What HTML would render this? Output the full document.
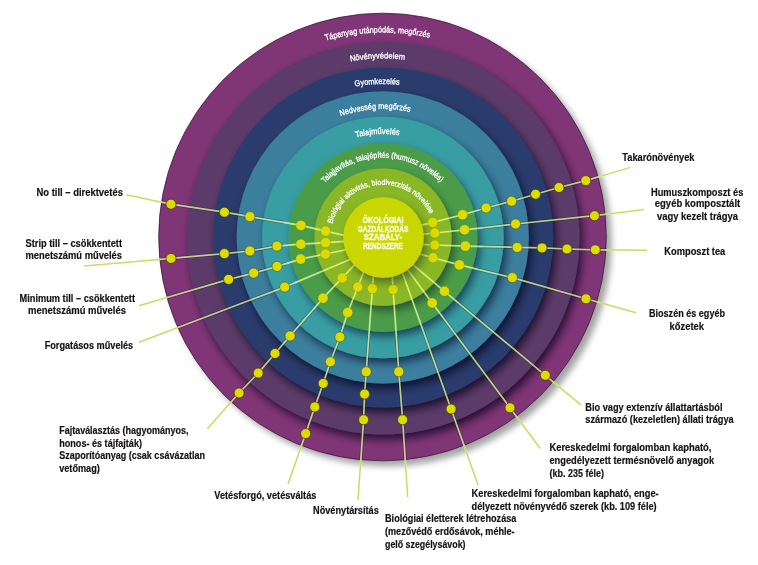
<!DOCTYPE html><html><head><meta charset="utf-8"><style>html,body{margin:0;padding:0;background:#fff;}svg{display:block;}text{font-family:"Liberation Sans",sans-serif;}</style></head><body>
<svg width="758" height="565" viewBox="0 0 758 565">
<defs>
<filter id="sh1" x="-20%" y="-20%" width="140%" height="140%"><feGaussianBlur in="SourceAlpha" stdDeviation="4.5"/><feOffset dx="3" dy="4.5" result="b"/><feFlood flood-color="#0a0018" flood-opacity="0.70"/><feComposite in2="b" operator="in"/><feMerge><feMergeNode/><feMergeNode in="SourceGraphic"/></feMerge></filter>
<filter id="sh2" x="-20%" y="-20%" width="140%" height="140%"><feGaussianBlur in="SourceAlpha" stdDeviation="4.5"/><feOffset dx="3" dy="4.5" result="b"/><feFlood flood-color="#0a0018" flood-opacity="0.70"/><feComposite in2="b" operator="in"/><feMerge><feMergeNode/><feMergeNode in="SourceGraphic"/></feMerge></filter>
<filter id="sh3" x="-20%" y="-20%" width="140%" height="140%"><feGaussianBlur in="SourceAlpha" stdDeviation="4.5"/><feOffset dx="3" dy="4.5" result="b"/><feFlood flood-color="#0a0018" flood-opacity="0.68"/><feComposite in2="b" operator="in"/><feMerge><feMergeNode/><feMergeNode in="SourceGraphic"/></feMerge></filter>
<filter id="sh4" x="-20%" y="-20%" width="140%" height="140%"><feGaussianBlur in="SourceAlpha" stdDeviation="4.5"/><feOffset dx="3" dy="4.5" result="b"/><feFlood flood-color="#0a0018" flood-opacity="0.60"/><feComposite in2="b" operator="in"/><feMerge><feMergeNode/><feMergeNode in="SourceGraphic"/></feMerge></filter>
<filter id="sh5" x="-20%" y="-20%" width="140%" height="140%"><feGaussianBlur in="SourceAlpha" stdDeviation="4.5"/><feOffset dx="3" dy="4.5" result="b"/><feFlood flood-color="#0a0018" flood-opacity="0.55"/><feComposite in2="b" operator="in"/><feMerge><feMergeNode/><feMergeNode in="SourceGraphic"/></feMerge></filter>
<filter id="sh6" x="-20%" y="-20%" width="140%" height="140%"><feGaussianBlur in="SourceAlpha" stdDeviation="4.5"/><feOffset dx="3" dy="4.5" result="b"/><feFlood flood-color="#0a0018" flood-opacity="0.45"/><feComposite in2="b" operator="in"/><feMerge><feMergeNode/><feMergeNode in="SourceGraphic"/></feMerge></filter>
<filter id="sh7" x="-20%" y="-20%" width="140%" height="140%"><feGaussianBlur in="SourceAlpha" stdDeviation="4.5"/><feOffset dx="3" dy="4.5" result="b"/><feFlood flood-color="#0a0018" flood-opacity="0.40"/><feComposite in2="b" operator="in"/><feMerge><feMergeNode/><feMergeNode in="SourceGraphic"/></feMerge></filter>
<filter id="sho" x="-20%" y="-20%" width="140%" height="140%"><feGaussianBlur in="SourceAlpha" stdDeviation="3"/><feOffset dx="4.5" dy="4.5" result="b"/><feFlood flood-color="#000" flood-opacity="0.36"/><feComposite in2="b" operator="in"/><feMerge><feMergeNode/><feMergeNode in="SourceGraphic"/></feMerge></filter>
<clipPath id="cc"><circle cx="382.8" cy="237.0" r="223.8"/></clipPath>
<clipPath id="ca"><path clip-rule="evenodd" d="M382.8 237.0 m-223.8 0 a223.8 223.8 0 1 0 447.6 0 a223.8 223.8 0 1 0 -447.6 0Z M382.8 237.0 m-100 0 a100 100 0 1 0 200 0 a100 100 0 1 0 -200 0Z"/></clipPath>
<clipPath id="co"><path clip-rule="evenodd" d="M0 0H758V565H0Z M382.8 237.0 m-223 0 a223 223 0 1 0 446 0 a223 223 0 1 0 -446 0Z"/></clipPath>
<path id="rp0" d="M347.29 438.39 A204.50 204.50 0 1 1 418.31 438.39"/>
<path id="rp1" d="M351.80 412.79 A178.50 178.50 0 1 1 413.80 412.79"/>
<path id="rp2" d="M356.23 387.68 A153.00 153.00 0 1 1 409.37 387.68"/>
<path id="rp3" d="M360.57 363.06 A128.00 128.00 0 1 1 405.03 363.06"/>
<path id="rp4" d="M364.91 338.44 A103.00 103.00 0 1 1 400.69 338.44"/>
<path id="rp5" d="M369.03 315.10 A79.30 79.30 0 1 1 396.57 315.10"/>
<path id="rp6" d="M373.72 288.51 A52.30 52.30 0 1 1 391.88 288.51"/>
</defs>
<circle cx="382.5" cy="237.0" r="223.8" fill="#803677" filter="url(#sho)" stroke="#3a1a3a" stroke-width="0.8"/>
<circle cx="383.2" cy="238.3" r="196.2" fill="#5b3a6a" filter="url(#sh1)"/>
<circle cx="383.2" cy="237.4" r="170.0" fill="#2b3a6d" filter="url(#sh2)"/>
<circle cx="382.7" cy="237.3" r="146.1" fill="#3a7e9e" filter="url(#sh3)"/>
<circle cx="382.9" cy="237.5" r="120.8" fill="#389ea4" filter="url(#sh4)"/>
<circle cx="383.0" cy="237.5" r="94.4" fill="#4c9c4a" filter="url(#sh5)"/>
<circle cx="383.0" cy="237.1" r="68.6" fill="#89b726" filter="url(#sh6)"/>
<text font-size="8.5" fill="#ffffff" stroke="#ffffff" stroke-width="0.3" text-anchor="middle"><textPath href="#rp0" startOffset="601.05" textLength="105.0" lengthAdjust="spacingAndGlyphs">Tápanyag utánpódás, megőrzés</textPath></text>
<text font-size="8.5" fill="#ffffff" stroke="#ffffff" stroke-width="0.3" text-anchor="middle"><textPath href="#rp1" startOffset="524.01" textLength="54.5" lengthAdjust="spacingAndGlyphs">Növényvédelem</textPath></text>
<text font-size="8.5" fill="#ffffff" stroke="#ffffff" stroke-width="0.3" text-anchor="middle"><textPath href="#rp2" startOffset="448.09" textLength="44.5" lengthAdjust="spacingAndGlyphs">Gyomkezelés</textPath></text>
<text font-size="8.5" fill="#ffffff" stroke="#ffffff" stroke-width="0.3" text-anchor="middle"><textPath href="#rp3" startOffset="371.74" textLength="70.5" lengthAdjust="spacingAndGlyphs">Nedvesség megőrzés</textPath></text>
<text font-size="8.5" fill="#ffffff" stroke="#ffffff" stroke-width="0.3" text-anchor="middle"><textPath href="#rp4" startOffset="300.21" textLength="43.5" lengthAdjust="spacingAndGlyphs">Talajművelés</textPath></text>
<text font-size="8.0" fill="#ffffff" stroke="#ffffff" stroke-width="0.3" text-anchor="middle"><textPath href="#rp5" startOffset="234.60" textLength="130.0" lengthAdjust="spacingAndGlyphs">Talajjavítás, talajépítés (humusz növelés)</textPath></text>
<text font-size="7.6" fill="#ffffff" stroke="#ffffff" stroke-width="0.3" text-anchor="middle"><textPath href="#rp6" startOffset="149.70" textLength="127.0" lengthAdjust="spacingAndGlyphs">Biológiai aktivitás, biodiverzitás növelése</textPath></text>
<g clip-path="url(#ca)" fill="none" stroke="#1a0a20" stroke-opacity="0.32" stroke-width="3.2" stroke-linejoin="round">
<path d="M126.4 194.8 L171.0 204.2 L224.4 212.2 L249.9 216.6 L300.9 225.4 L325.6 231.1 L352.8 237.4"/>
<path d="M84.0 266.0 L171.0 258.4 L224.4 253.6 L249.9 251.0 L277.0 246.1 L300.9 244.2 L325.6 242.6 L353.0 240.8"/>
<path d="M139.0 305.8 L228.6 279.4 L253.7 273.1 L277.1 266.4 L300.7 259.1 L325.4 254.0 L354.9 247.9"/>
<path d="M139.0 342.2 L284.7 287.1 L347.0 260.7 L359.2 255.5"/>
<path d="M207.4 428.7 L239.1 393.0 L258.2 373.1 L275.0 353.5 L290.1 335.9 L323.0 298.2 L342.2 277.9 L361.2 257.8"/>
<path d="M288.0 483.9 L305.7 433.6 L314.8 406.9 L323.2 383.4 L330.4 361.8 L339.9 337.0 L347.7 312.5 L357.8 287.0 L367.4 262.7"/>
<path d="M358.0 500.0 L363.6 419.8 L364.6 394.1 L366.2 371.8 L372.4 288.6 L374.1 265.7"/>
<path d="M407.7 497.3 L402.6 419.8 L398.8 371.8 L393.1 289.4 L391.5 265.7"/>
<path d="M478.2 485.4 L451.1 409.0 L402.7 273.5 L398.7 262.4"/>
<path d="M540.2 448.5 L510.0 407.8 L432.2 303.0 L407.5 269.5 L401.1 260.8"/>
<path d="M580.9 404.8 L545.3 375.3 L444.5 291.3 L413.9 265.5 L404.6 257.6"/>
<path d="M636.2 312.7 L586.0 298.8 L512.4 277.6 L459.4 264.9 L433.0 257.7 L409.2 251.2"/>
<path d="M647.1 250.3 L595.3 249.8 L567.0 249.0 L542.0 247.9 L517.2 247.4 L465.4 246.1 L434.7 245.0 L411.9 244.2"/>
<path d="M644.0 209.6 L594.5 215.7 L515.6 224.0 L464.6 229.8 L434.7 233.0 L412.8 235.3"/>
<path d="M630.4 167.4 L585.8 180.6 L559.0 187.5 L535.6 194.2 L511.6 201.2 L486.1 208.0 L462.5 214.7 L432.7 222.4 L411.4 227.9"/>
</g>
<path d="M126.4 194.8 L171.0 204.2 L224.4 212.2 L249.9 216.6 L300.9 225.4 L325.6 231.1 L352.8 237.4" fill="none" stroke="#aac85a" style="mix-blend-mode:screen" stroke-width="1.7" stroke-linejoin="round"/>
<path d="M84.0 266.0 L171.0 258.4 L224.4 253.6 L249.9 251.0 L277.0 246.1 L300.9 244.2 L325.6 242.6 L353.0 240.8" fill="none" stroke="#aac85a" style="mix-blend-mode:screen" stroke-width="1.7" stroke-linejoin="round"/>
<path d="M139.0 305.8 L228.6 279.4 L253.7 273.1 L277.1 266.4 L300.7 259.1 L325.4 254.0 L354.9 247.9" fill="none" stroke="#aac85a" style="mix-blend-mode:screen" stroke-width="1.7" stroke-linejoin="round"/>
<path d="M139.0 342.2 L284.7 287.1 L347.0 260.7 L359.2 255.5" fill="none" stroke="#aac85a" style="mix-blend-mode:screen" stroke-width="1.7" stroke-linejoin="round"/>
<path d="M207.4 428.7 L239.1 393.0 L258.2 373.1 L275.0 353.5 L290.1 335.9 L323.0 298.2 L342.2 277.9 L361.2 257.8" fill="none" stroke="#aac85a" style="mix-blend-mode:screen" stroke-width="1.7" stroke-linejoin="round"/>
<path d="M288.0 483.9 L305.7 433.6 L314.8 406.9 L323.2 383.4 L330.4 361.8 L339.9 337.0 L347.7 312.5 L357.8 287.0 L367.4 262.7" fill="none" stroke="#aac85a" style="mix-blend-mode:screen" stroke-width="1.7" stroke-linejoin="round"/>
<path d="M358.0 500.0 L363.6 419.8 L364.6 394.1 L366.2 371.8 L372.4 288.6 L374.1 265.7" fill="none" stroke="#aac85a" style="mix-blend-mode:screen" stroke-width="1.7" stroke-linejoin="round"/>
<path d="M407.7 497.3 L402.6 419.8 L398.8 371.8 L393.1 289.4 L391.5 265.7" fill="none" stroke="#aac85a" style="mix-blend-mode:screen" stroke-width="1.7" stroke-linejoin="round"/>
<path d="M478.2 485.4 L451.1 409.0 L402.7 273.5 L398.7 262.4" fill="none" stroke="#aac85a" style="mix-blend-mode:screen" stroke-width="1.7" stroke-linejoin="round"/>
<path d="M540.2 448.5 L510.0 407.8 L432.2 303.0 L407.5 269.5 L401.1 260.8" fill="none" stroke="#aac85a" style="mix-blend-mode:screen" stroke-width="1.7" stroke-linejoin="round"/>
<path d="M580.9 404.8 L545.3 375.3 L444.5 291.3 L413.9 265.5 L404.6 257.6" fill="none" stroke="#aac85a" style="mix-blend-mode:screen" stroke-width="1.7" stroke-linejoin="round"/>
<path d="M636.2 312.7 L586.0 298.8 L512.4 277.6 L459.4 264.9 L433.0 257.7 L409.2 251.2" fill="none" stroke="#aac85a" style="mix-blend-mode:screen" stroke-width="1.7" stroke-linejoin="round"/>
<path d="M647.1 250.3 L595.3 249.8 L567.0 249.0 L542.0 247.9 L517.2 247.4 L465.4 246.1 L434.7 245.0 L411.9 244.2" fill="none" stroke="#aac85a" style="mix-blend-mode:screen" stroke-width="1.7" stroke-linejoin="round"/>
<path d="M644.0 209.6 L594.5 215.7 L515.6 224.0 L464.6 229.8 L434.7 233.0 L412.8 235.3" fill="none" stroke="#aac85a" style="mix-blend-mode:screen" stroke-width="1.7" stroke-linejoin="round"/>
<path d="M630.4 167.4 L585.8 180.6 L559.0 187.5 L535.6 194.2 L511.6 201.2 L486.1 208.0 L462.5 214.7 L432.7 222.4 L411.4 227.9" fill="none" stroke="#aac85a" style="mix-blend-mode:screen" stroke-width="1.7" stroke-linejoin="round"/>
<g clip-path="url(#co)" fill="none" stroke="#c9dc62" stroke-width="1.5" stroke-linejoin="round">
<path d="M126.4 194.8 L171.0 204.2 L224.4 212.2 L249.9 216.6 L300.9 225.4 L325.6 231.1 L352.8 237.4"/>
<path d="M84.0 266.0 L171.0 258.4 L224.4 253.6 L249.9 251.0 L277.0 246.1 L300.9 244.2 L325.6 242.6 L353.0 240.8"/>
<path d="M139.0 305.8 L228.6 279.4 L253.7 273.1 L277.1 266.4 L300.7 259.1 L325.4 254.0 L354.9 247.9"/>
<path d="M139.0 342.2 L284.7 287.1 L347.0 260.7 L359.2 255.5"/>
<path d="M207.4 428.7 L239.1 393.0 L258.2 373.1 L275.0 353.5 L290.1 335.9 L323.0 298.2 L342.2 277.9 L361.2 257.8"/>
<path d="M288.0 483.9 L305.7 433.6 L314.8 406.9 L323.2 383.4 L330.4 361.8 L339.9 337.0 L347.7 312.5 L357.8 287.0 L367.4 262.7"/>
<path d="M358.0 500.0 L363.6 419.8 L364.6 394.1 L366.2 371.8 L372.4 288.6 L374.1 265.7"/>
<path d="M407.7 497.3 L402.6 419.8 L398.8 371.8 L393.1 289.4 L391.5 265.7"/>
<path d="M478.2 485.4 L451.1 409.0 L402.7 273.5 L398.7 262.4"/>
<path d="M540.2 448.5 L510.0 407.8 L432.2 303.0 L407.5 269.5 L401.1 260.8"/>
<path d="M580.9 404.8 L545.3 375.3 L444.5 291.3 L413.9 265.5 L404.6 257.6"/>
<path d="M636.2 312.7 L586.0 298.8 L512.4 277.6 L459.4 264.9 L433.0 257.7 L409.2 251.2"/>
<path d="M647.1 250.3 L595.3 249.8 L567.0 249.0 L542.0 247.9 L517.2 247.4 L465.4 246.1 L434.7 245.0 L411.9 244.2"/>
<path d="M644.0 209.6 L594.5 215.7 L515.6 224.0 L464.6 229.8 L434.7 233.0 L412.8 235.3"/>
<path d="M630.4 167.4 L585.8 180.6 L559.0 187.5 L535.6 194.2 L511.6 201.2 L486.1 208.0 L462.5 214.7 L432.7 222.4 L411.4 227.9"/>
</g>
<circle cx="171.0" cy="204.2" r="5.0" fill="#dcdc00" stroke="#3a2a10" stroke-opacity="0.65" stroke-width="1"/>
<circle cx="224.4" cy="212.2" r="5.0" fill="#dcdc00" stroke="#3a2a10" stroke-opacity="0.65" stroke-width="1"/>
<circle cx="249.9" cy="216.6" r="5.0" fill="#dcdc00" stroke="#3a2a10" stroke-opacity="0.40" stroke-width="1"/>
<circle cx="300.9" cy="225.4" r="5.0" fill="#dcdc00" stroke="#3a2a10" stroke-opacity="0.15" stroke-width="1"/>
<circle cx="325.6" cy="231.1" r="5.0" fill="#dcdc00" stroke="#3a2a10" stroke-opacity="0.15" stroke-width="1"/>
<circle cx="171.0" cy="258.4" r="5.0" fill="#dcdc00" stroke="#3a2a10" stroke-opacity="0.65" stroke-width="1"/>
<circle cx="224.4" cy="253.6" r="5.0" fill="#dcdc00" stroke="#3a2a10" stroke-opacity="0.65" stroke-width="1"/>
<circle cx="249.9" cy="251.0" r="5.0" fill="#dcdc00" stroke="#3a2a10" stroke-opacity="0.40" stroke-width="1"/>
<circle cx="277.0" cy="246.1" r="5.0" fill="#dcdc00" stroke="#3a2a10" stroke-opacity="0.40" stroke-width="1"/>
<circle cx="300.9" cy="244.2" r="5.0" fill="#dcdc00" stroke="#3a2a10" stroke-opacity="0.15" stroke-width="1"/>
<circle cx="325.6" cy="242.6" r="5.0" fill="#dcdc00" stroke="#3a2a10" stroke-opacity="0.15" stroke-width="1"/>
<circle cx="228.6" cy="279.4" r="5.0" fill="#dcdc00" stroke="#3a2a10" stroke-opacity="0.65" stroke-width="1"/>
<circle cx="253.7" cy="273.1" r="5.0" fill="#dcdc00" stroke="#3a2a10" stroke-opacity="0.40" stroke-width="1"/>
<circle cx="277.1" cy="266.4" r="5.0" fill="#dcdc00" stroke="#3a2a10" stroke-opacity="0.40" stroke-width="1"/>
<circle cx="300.7" cy="259.1" r="5.0" fill="#dcdc00" stroke="#3a2a10" stroke-opacity="0.15" stroke-width="1"/>
<circle cx="325.4" cy="254.0" r="5.0" fill="#dcdc00" stroke="#3a2a10" stroke-opacity="0.15" stroke-width="1"/>
<circle cx="284.7" cy="287.1" r="5.0" fill="#dcdc00" stroke="#3a2a10" stroke-opacity="0.40" stroke-width="1"/>
<circle cx="239.1" cy="393.0" r="5.0" fill="#dcdc00" stroke="#3a2a10" stroke-opacity="0.65" stroke-width="1"/>
<circle cx="258.2" cy="373.1" r="5.0" fill="#dcdc00" stroke="#3a2a10" stroke-opacity="0.65" stroke-width="1"/>
<circle cx="275.0" cy="353.5" r="5.0" fill="#dcdc00" stroke="#3a2a10" stroke-opacity="0.65" stroke-width="1"/>
<circle cx="290.1" cy="335.9" r="5.0" fill="#dcdc00" stroke="#3a2a10" stroke-opacity="0.40" stroke-width="1"/>
<circle cx="323.0" cy="298.2" r="5.0" fill="#dcdc00" stroke="#3a2a10" stroke-opacity="0.15" stroke-width="1"/>
<circle cx="342.2" cy="277.9" r="5.0" fill="#dcdc00" stroke="#3a2a10" stroke-opacity="0.15" stroke-width="1"/>
<circle cx="305.7" cy="433.6" r="5.0" fill="#dcdc00" stroke="#3a2a10" stroke-opacity="0.65" stroke-width="1"/>
<circle cx="314.8" cy="406.9" r="5.0" fill="#dcdc00" stroke="#3a2a10" stroke-opacity="0.65" stroke-width="1"/>
<circle cx="323.2" cy="383.4" r="5.0" fill="#dcdc00" stroke="#3a2a10" stroke-opacity="0.65" stroke-width="1"/>
<circle cx="330.4" cy="361.8" r="5.0" fill="#dcdc00" stroke="#3a2a10" stroke-opacity="0.40" stroke-width="1"/>
<circle cx="339.9" cy="337.0" r="5.0" fill="#dcdc00" stroke="#3a2a10" stroke-opacity="0.40" stroke-width="1"/>
<circle cx="347.7" cy="312.5" r="5.0" fill="#dcdc00" stroke="#3a2a10" stroke-opacity="0.15" stroke-width="1"/>
<circle cx="357.8" cy="287.0" r="5.0" fill="#dcdc00" stroke="#3a2a10" stroke-opacity="0.15" stroke-width="1"/>
<circle cx="363.6" cy="419.8" r="5.0" fill="#dcdc00" stroke="#3a2a10" stroke-opacity="0.65" stroke-width="1"/>
<circle cx="364.6" cy="394.1" r="5.0" fill="#dcdc00" stroke="#3a2a10" stroke-opacity="0.65" stroke-width="1"/>
<circle cx="366.2" cy="371.8" r="5.0" fill="#dcdc00" stroke="#3a2a10" stroke-opacity="0.40" stroke-width="1"/>
<circle cx="372.4" cy="288.6" r="5.0" fill="#dcdc00" stroke="#3a2a10" stroke-opacity="0.15" stroke-width="1"/>
<circle cx="402.6" cy="419.8" r="5.0" fill="#dcdc00" stroke="#3a2a10" stroke-opacity="0.65" stroke-width="1"/>
<circle cx="398.8" cy="371.8" r="5.0" fill="#dcdc00" stroke="#3a2a10" stroke-opacity="0.40" stroke-width="1"/>
<circle cx="393.1" cy="289.4" r="5.0" fill="#dcdc00" stroke="#3a2a10" stroke-opacity="0.15" stroke-width="1"/>
<circle cx="451.1" cy="409.0" r="5.0" fill="#dcdc00" stroke="#3a2a10" stroke-opacity="0.65" stroke-width="1"/>
<circle cx="510.0" cy="407.8" r="5.0" fill="#dcdc00" stroke="#3a2a10" stroke-opacity="0.65" stroke-width="1"/>
<circle cx="432.2" cy="303.0" r="5.0" fill="#dcdc00" stroke="#3a2a10" stroke-opacity="0.15" stroke-width="1"/>
<circle cx="545.3" cy="375.3" r="5.0" fill="#dcdc00" stroke="#3a2a10" stroke-opacity="0.65" stroke-width="1"/>
<circle cx="444.5" cy="291.3" r="5.0" fill="#dcdc00" stroke="#3a2a10" stroke-opacity="0.15" stroke-width="1"/>
<circle cx="586.0" cy="298.8" r="5.0" fill="#dcdc00" stroke="#3a2a10" stroke-opacity="0.65" stroke-width="1"/>
<circle cx="512.4" cy="277.6" r="5.0" fill="#dcdc00" stroke="#3a2a10" stroke-opacity="0.40" stroke-width="1"/>
<circle cx="459.4" cy="264.9" r="5.0" fill="#dcdc00" stroke="#3a2a10" stroke-opacity="0.15" stroke-width="1"/>
<circle cx="433.0" cy="257.7" r="5.0" fill="#dcdc00" stroke="#3a2a10" stroke-opacity="0.15" stroke-width="1"/>
<circle cx="595.3" cy="249.8" r="5.0" fill="#dcdc00" stroke="#3a2a10" stroke-opacity="0.65" stroke-width="1"/>
<circle cx="567.0" cy="249.0" r="5.0" fill="#dcdc00" stroke="#3a2a10" stroke-opacity="0.65" stroke-width="1"/>
<circle cx="542.0" cy="247.9" r="5.0" fill="#dcdc00" stroke="#3a2a10" stroke-opacity="0.65" stroke-width="1"/>
<circle cx="517.2" cy="247.4" r="5.0" fill="#dcdc00" stroke="#3a2a10" stroke-opacity="0.40" stroke-width="1"/>
<circle cx="465.4" cy="246.1" r="5.0" fill="#dcdc00" stroke="#3a2a10" stroke-opacity="0.15" stroke-width="1"/>
<circle cx="434.7" cy="245.0" r="5.0" fill="#dcdc00" stroke="#3a2a10" stroke-opacity="0.15" stroke-width="1"/>
<circle cx="594.5" cy="215.7" r="5.0" fill="#dcdc00" stroke="#3a2a10" stroke-opacity="0.65" stroke-width="1"/>
<circle cx="515.6" cy="224.0" r="5.0" fill="#dcdc00" stroke="#3a2a10" stroke-opacity="0.40" stroke-width="1"/>
<circle cx="464.6" cy="229.8" r="5.0" fill="#dcdc00" stroke="#3a2a10" stroke-opacity="0.15" stroke-width="1"/>
<circle cx="434.7" cy="233.0" r="5.0" fill="#dcdc00" stroke="#3a2a10" stroke-opacity="0.15" stroke-width="1"/>
<circle cx="585.8" cy="180.6" r="5.0" fill="#dcdc00" stroke="#3a2a10" stroke-opacity="0.65" stroke-width="1"/>
<circle cx="559.0" cy="187.5" r="5.0" fill="#dcdc00" stroke="#3a2a10" stroke-opacity="0.65" stroke-width="1"/>
<circle cx="535.6" cy="194.2" r="5.0" fill="#dcdc00" stroke="#3a2a10" stroke-opacity="0.65" stroke-width="1"/>
<circle cx="511.6" cy="201.2" r="5.0" fill="#dcdc00" stroke="#3a2a10" stroke-opacity="0.40" stroke-width="1"/>
<circle cx="486.1" cy="208.0" r="5.0" fill="#dcdc00" stroke="#3a2a10" stroke-opacity="0.40" stroke-width="1"/>
<circle cx="462.5" cy="214.7" r="5.0" fill="#dcdc00" stroke="#3a2a10" stroke-opacity="0.15" stroke-width="1"/>
<circle cx="432.7" cy="222.4" r="5.0" fill="#dcdc00" stroke="#3a2a10" stroke-opacity="0.15" stroke-width="1"/>
<circle cx="383.5" cy="237.5" r="40.2" fill="#cad600" filter="url(#sh7)"/>
<text x="383" y="223.0" font-size="8.2" font-weight="bold" fill="#fafbe0" stroke="#fafbe0" stroke-width="0.35" text-anchor="middle" textLength="41.0" lengthAdjust="spacingAndGlyphs">ÖKOLÓGIAI</text>
<text x="383" y="231.8" font-size="8.2" font-weight="bold" fill="#fafbe0" stroke="#fafbe0" stroke-width="0.35" text-anchor="middle" textLength="50.5" lengthAdjust="spacingAndGlyphs">GAZDÁLKODÁS</text>
<text x="383" y="240.2" font-size="8.2" font-weight="bold" fill="#fafbe0" stroke="#fafbe0" stroke-width="0.35" text-anchor="middle" textLength="38.5" lengthAdjust="spacingAndGlyphs">SZABÁLY-</text>
<text x="383" y="248.9" font-size="8.2" font-weight="bold" fill="#fafbe0" stroke="#fafbe0" stroke-width="0.35" text-anchor="middle" textLength="39.7" lengthAdjust="spacingAndGlyphs">RENDSZERE</text>
<text x="36.5" y="195.6" font-size="10.4" font-weight="bold" fill="#141112" stroke="#141112" stroke-width="0.18" textLength="86.5" lengthAdjust="spacingAndGlyphs">No till – direktvetés</text>
<text x="25.5" y="246.9" font-size="10.4" font-weight="bold" fill="#141112" stroke="#141112" stroke-width="0.18" textLength="96.5" lengthAdjust="spacingAndGlyphs">Strip till – csökkentett</text>
<text x="25.5" y="259.3" font-size="10.4" font-weight="bold" fill="#141112" stroke="#141112" stroke-width="0.18" textLength="96.5" lengthAdjust="spacingAndGlyphs">menetszámú művelés</text>
<text x="19.5" y="301.9" font-size="10.4" font-weight="bold" fill="#141112" stroke="#141112" stroke-width="0.18" textLength="115.5" lengthAdjust="spacingAndGlyphs">Minimum till – csökkentett</text>
<text x="28.0" y="314.3" font-size="10.4" font-weight="bold" fill="#141112" stroke="#141112" stroke-width="0.18" textLength="98.0" lengthAdjust="spacingAndGlyphs">menetszámú művelés</text>
<text x="44.7" y="348.5" font-size="10.4" font-weight="bold" fill="#141112" stroke="#141112" stroke-width="0.18" textLength="88.5" lengthAdjust="spacingAndGlyphs">Forgatásos művelés</text>
<text x="59.2" y="434.2" font-size="10.4" font-weight="bold" fill="#141112" stroke="#141112" stroke-width="0.18" textLength="129.2" lengthAdjust="spacingAndGlyphs">Fajtaválasztás (hagyományos,</text>
<text x="59.2" y="446.7" font-size="10.4" font-weight="bold" fill="#141112" stroke="#141112" stroke-width="0.18" textLength="82.8" lengthAdjust="spacingAndGlyphs">honos- és tájfajták)</text>
<text x="59.2" y="459.2" font-size="10.4" font-weight="bold" fill="#141112" stroke="#141112" stroke-width="0.18" textLength="145.8" lengthAdjust="spacingAndGlyphs">Szaporítóanyag (csak csávázatlan</text>
<text x="59.2" y="471.8" font-size="10.4" font-weight="bold" fill="#141112" stroke="#141112" stroke-width="0.18" textLength="40.6" lengthAdjust="spacingAndGlyphs">vetőmag)</text>
<text x="214.3" y="498.9" font-size="10.4" font-weight="bold" fill="#141112" stroke="#141112" stroke-width="0.18" textLength="102.1" lengthAdjust="spacingAndGlyphs">Vetésforgó, vetésváltás</text>
<text x="313.0" y="513.9" font-size="10.4" font-weight="bold" fill="#141112" stroke="#141112" stroke-width="0.18" textLength="65.8" lengthAdjust="spacingAndGlyphs">Növénytársítás</text>
<text x="385.0" y="521.9" font-size="10.4" font-weight="bold" fill="#141112" stroke="#141112" stroke-width="0.18" textLength="131.4" lengthAdjust="spacingAndGlyphs">Biológiai életterek létrehozása</text>
<text x="385.0" y="535.0" font-size="10.4" font-weight="bold" fill="#141112" stroke="#141112" stroke-width="0.18" textLength="129.6" lengthAdjust="spacingAndGlyphs">(mezővédő erdősávok, méhle-</text>
<text x="385.0" y="548.2" font-size="10.4" font-weight="bold" fill="#141112" stroke="#141112" stroke-width="0.18" textLength="80.5" lengthAdjust="spacingAndGlyphs">gelő szegélysávok)</text>
<text x="471.6" y="496.5" font-size="10.4" font-weight="bold" fill="#141112" stroke="#141112" stroke-width="0.18" textLength="187.1" lengthAdjust="spacingAndGlyphs">Kereskedelmi forgalomban kapható, enge-</text>
<text x="471.6" y="509.6" font-size="10.4" font-weight="bold" fill="#141112" stroke="#141112" stroke-width="0.18" textLength="185.1" lengthAdjust="spacingAndGlyphs">délyezett növényvédő szerek (kb. 109 féle)</text>
<text x="549.4" y="450.6" font-size="10.4" font-weight="bold" fill="#141112" stroke="#141112" stroke-width="0.18" textLength="162.1" lengthAdjust="spacingAndGlyphs">Kereskedelmi forgalomban kapható,</text>
<text x="549.4" y="463.6" font-size="10.4" font-weight="bold" fill="#141112" stroke="#141112" stroke-width="0.18" textLength="164.7" lengthAdjust="spacingAndGlyphs">engedélyezett termésnövelő anyagok</text>
<text x="549.4" y="476.7" font-size="10.4" font-weight="bold" fill="#141112" stroke="#141112" stroke-width="0.18" textLength="54.5" lengthAdjust="spacingAndGlyphs">(kb. 235 féle)</text>
<text x="585.3" y="410.9" font-size="10.4" font-weight="bold" fill="#141112" stroke="#141112" stroke-width="0.18" textLength="137.2" lengthAdjust="spacingAndGlyphs">Bio vagy extenzív állattartásból</text>
<text x="585.3" y="423.4" font-size="10.4" font-weight="bold" fill="#141112" stroke="#141112" stroke-width="0.18" textLength="148.4" lengthAdjust="spacingAndGlyphs">származó (kezeletlen) állati trágya</text>
<text x="649.0" y="317.0" font-size="10.4" font-weight="bold" fill="#141112" stroke="#141112" stroke-width="0.18" textLength="76.0" lengthAdjust="spacingAndGlyphs">Bioszén és egyéb</text>
<text x="669.6" y="329.6" font-size="10.4" font-weight="bold" fill="#141112" stroke="#141112" stroke-width="0.18" textLength="34.4" lengthAdjust="spacingAndGlyphs">kőzetek</text>
<text x="664.3" y="254.8" font-size="10.4" font-weight="bold" fill="#141112" stroke="#141112" stroke-width="0.18" textLength="61.0" lengthAdjust="spacingAndGlyphs">Komposzt tea</text>
<text x="651.0" y="196.0" font-size="10.4" font-weight="bold" fill="#141112" stroke="#141112" stroke-width="0.18" textLength="92.3" lengthAdjust="spacingAndGlyphs">Humuszkomposzt és</text>
<text x="654.8" y="207.2" font-size="10.4" font-weight="bold" fill="#141112" stroke="#141112" stroke-width="0.18" textLength="85.4" lengthAdjust="spacingAndGlyphs">egyéb komposztált</text>
<text x="657.0" y="220.2" font-size="10.4" font-weight="bold" fill="#141112" stroke="#141112" stroke-width="0.18" textLength="81.0" lengthAdjust="spacingAndGlyphs">vagy kezelt trágya</text>
<text x="622.3" y="161.4" font-size="10.4" font-weight="bold" fill="#141112" stroke="#141112" stroke-width="0.18" textLength="72.2" lengthAdjust="spacingAndGlyphs">Takarónövények</text>
</svg></body></html>
